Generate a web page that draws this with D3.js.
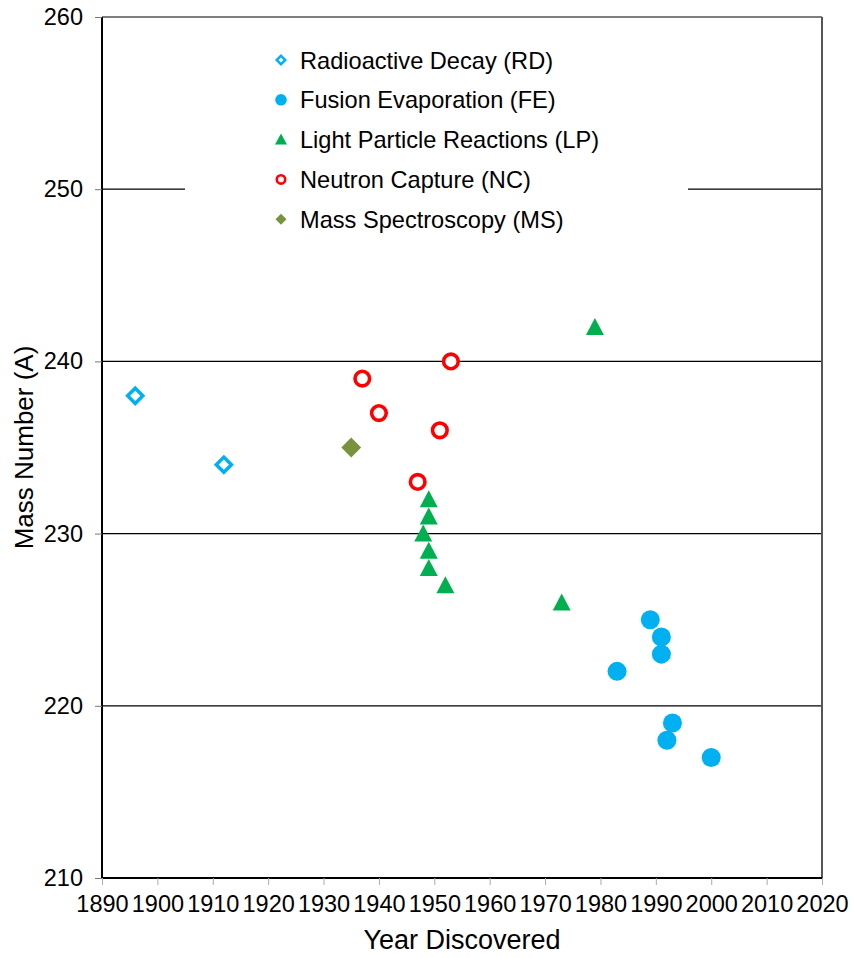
<!DOCTYPE html>
<html>
<head>
<meta charset="utf-8">
<script src="https://cdn.jsdelivr.net/npm/d3@7/dist/d3.min.js"></script>
<style>
html,body{margin:0;padding:0;background:#fff;}
svg{display:block;font-family:"Liberation Sans",Arial,sans-serif;}
</style>
</head>
<body>
<svg id="chart" width="854" height="958"></svg>
<script>
const seriesNames = ["Radioactive Decay (RD)","Fusion Evaporation (FE)","Light Particle Reactions (LP)","Neutron Capture (NC)","Mass Spectroscopy (MS)"];
const rdYears = [1896, 1912];
const rdMass  = [238, 234];
const feYears = [1983, 1989, 1991, 1991, 1993, 1992, 2000];
const feMass  = [222, 225, 224, 223, 219, 218, 217];
const lpYears = [1949, 1949, 1948, 1949, 1949, 1952, 1973, 1979];
const lpMass  = [232, 231, 230, 229, 228, 227, 226, 242];
const ncYears = [1937, 1940, 1953, 1951, 1947];
const ncMass  = [239, 237, 240, 236, 233];
const msYears = [1935];
const msMass  = [235];
const xTicks = [1890,1900,1910,1920,1930,1940,1950,1960,1970,1980,1990,2000,2010,2020];
const yTicks = [210,220,230,240,250,260];

const FONT = "'Liberation Sans', Arial, sans-serif";
const svg = d3.select("#chart");
const L = 102, R = 822, T = 17, B = 878;
const x = d3.scaleLinear().domain([1890, 2020]).range([L, R]);
const y = d3.scaleLinear().domain([210, 260]).range([B, T]);

// gridlines
svg.append("g").selectAll("line").data(yTicks.filter(d => d > 210)).join("line")
  .attr("x1", L).attr("x2", R).attr("y1", d => y(d)).attr("y2", d => y(d))
  .attr("stroke", "#000").attr("stroke-width", 1.2);

// right border
svg.append("line").attr("x1", R).attr("x2", R).attr("y1", T).attr("y2", B)
  .attr("stroke", "#555").attr("stroke-width", 2);

// legend background (hides gridline)
svg.append("rect").attr("x", 185).attr("y", 35).attr("width", 503).attr("height", 205).attr("fill", "#fff");

// axes
const xAxis = d3.axisBottom(x).tickValues(xTicks).tickFormat(d3.format("d")).tickSize(7).tickPadding(10);
const gx = svg.append("g").attr("transform", `translate(0,${B})`).call(xAxis);
gx.attr("font-family", FONT);
gx.select(".domain").attr("stroke", "#000").attr("stroke-width", 2).attr("d", `M${L},0H${R}`);
gx.selectAll(".tick line").attr("stroke", "#aaa");
gx.selectAll("text").attr("font-size", 23.5).attr("fill", "#000");

const yAxis = d3.axisLeft(y).tickValues(yTicks).tickSize(7).tickPadding(12);
const gy = svg.append("g").attr("transform", `translate(${L},0)`).call(yAxis);
gy.attr("font-family", FONT);
gy.select(".domain").attr("stroke", "#000").attr("stroke-width", 2).attr("d", `M0,${T}V${B}`);
gy.selectAll(".tick line").attr("stroke", "#777");
gy.selectAll("text").attr("font-size", 23.5).attr("fill", "#000");

// axis titles
svg.append("text").attr("x", 462).attr("y", 949).attr("text-anchor", "middle")
  .attr("font-family", FONT).attr("font-size", 27).text("Year Discovered");
svg.append("text").attr("transform", `translate(33,${(T + B) / 2}) rotate(-90)`).attr("text-anchor", "middle")
  .attr("font-family", FONT).attr("font-size", 26).text("Mass Number (A)");

const blue = "#00B0F0", green = "#00B050", red = "#FF0000", olive = "#77933C";
const zip = (xs, ys) => xs.map((v, i) => ({year: v, mass: ys[i]}));

// markers
const sym = (type, size) => d3.symbol().type(type).size(size)();
const g = svg.append("g");
// MS
g.selectAll(".ms").data(zip(msYears, msMass)).join("path")
  .attr("d", sym(d3.symbolSquare, 196))
  .attr("transform", d => `translate(${x(d.year)},${y(d.mass)}) rotate(45)`)
  .attr("fill", olive);
// RD
g.selectAll(".rd").data(zip(rdYears, rdMass)).join("path")
  .attr("d", sym(d3.symbolSquare, 115))
  .attr("transform", d => `translate(${x(d.year)},${y(d.mass)}) rotate(45)`)
  .attr("fill", "#fff").attr("stroke", blue).attr("stroke-width", 3.5);
// NC
g.selectAll(".nc").data(zip(ncYears, ncMass)).join("circle")
  .attr("cx", d => x(d.year)).attr("cy", d => y(d.mass)).attr("r", 7.3)
  .attr("fill", "#fff").attr("stroke", red).attr("stroke-width", 3.6);
// LP
g.selectAll(".lp").data(zip(lpYears, lpMass)).join("path")
  .attr("d", "M0,-9L9,8L-9,8Z")
  .attr("transform", d => `translate(${x(d.year)},${y(d.mass)})`)
  .attr("fill", green);
// FE
g.selectAll(".fe").data(zip(feYears, feMass)).join("circle")
  .attr("cx", d => x(d.year)).attr("cy", d => y(d.mass)).attr("r", 9.5)
  .attr("fill", blue);

// legend
const lg = svg.append("g");
const ly0 = 60, ldy = 39.8, lmx = 281, ltx = 300;
seriesNames.forEach((name, i) => {
  const cy = ly0 + i * ldy;
  if (i === 0) {
    lg.append("path").attr("d", sym(d3.symbolSquare, 36))
      .attr("transform", `translate(${lmx},${cy}) rotate(45)`)
      .attr("fill", "#fff").attr("stroke", blue).attr("stroke-width", 2.5);
  } else if (i === 1) {
    lg.append("circle").attr("cx", lmx).attr("cy", cy).attr("r", 5.8).attr("fill", blue);
  } else if (i === 2) {
    lg.append("path").attr("d", "M0,-6L6,5L-6,5Z").attr("transform", `translate(${lmx},${cy})`).attr("fill", green);
  } else if (i === 3) {
    lg.append("circle").attr("cx", lmx).attr("cy", cy).attr("r", 4.2).attr("fill", "#fff").attr("stroke", red).attr("stroke-width", 2.6);
  } else {
    lg.append("path").attr("d", sym(d3.symbolSquare, 60))
      .attr("transform", `translate(${lmx},${cy}) rotate(45)`).attr("fill", olive);
  }
  lg.append("text").attr("x", ltx).attr("y", cy + 8.5).attr("font-family", FONT).attr("font-size", 23.6).attr("fill", "#000").text(name);
});
</script>
</body>
</html>
